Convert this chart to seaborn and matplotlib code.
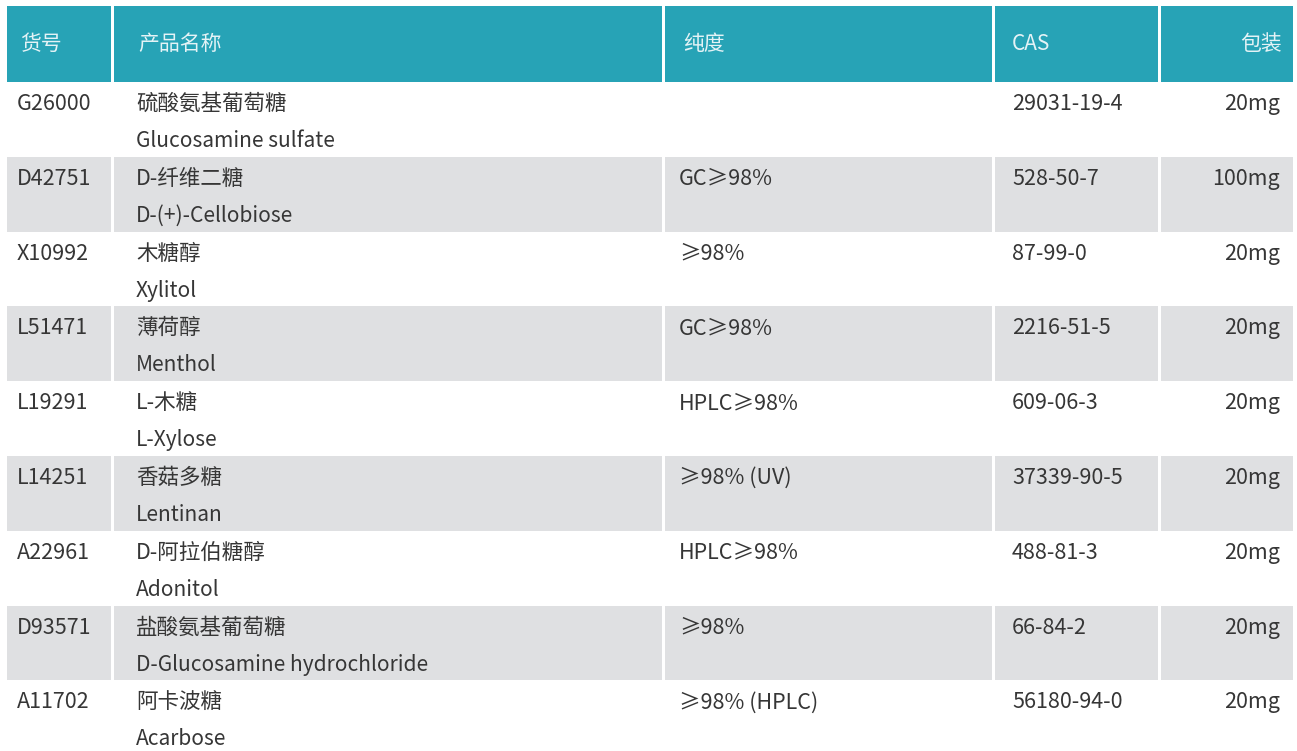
import matplotlib
matplotlib.use("Agg")
import matplotlib.pyplot as plt
from matplotlib.patches import Rectangle
import seaborn as sns

# ---- data ----
headers = ["货号", "产品名称", "纯度", "CAS", "包装"]
codes = ["G26000", "D42751", "X10992", "L51471", "L19291", "L14251", "A22961", "D93571", "A11702"]
names_cn = ["硫酸氨基葡萄糖", "D-纤维二糖", "木糖醇", "薄荷醇", "L-木糖", "香菇多糖",
            "D-阿拉伯糖醇", "盐酸氨基葡萄糖", "阿卡波糖"]
names_en = ["Glucosamine sulfate", "D-(+)-Cellobiose", "Xylitol", "Menthol", "L-Xylose",
            "Lentinan", "Adonitol", "D-Glucosamine hydrochloride", "Acarbose"]
purity = ["", "GC≥98%", "≥98%", "GC≥98%", "HPLC≥98%", "≥98% (UV)", "HPLC≥98%", "≥98%", "≥98% (HPLC)"]
cas = ["29031-19-4", "528-50-7", "87-99-0", "2216-51-5", "609-06-3", "37339-90-5",
       "488-81-3", "66-84-2", "56180-94-0"]
pack = ["20mg", "100mg", "20mg", "20mg", "20mg", "20mg", "20mg", "20mg", "20mg"]

sns.set_theme(style="white")
plt.rcParams['font.family'] = ['Noto Sans CJK SC', 'DejaVu Sans']

W, H = 1297, 751
fig = plt.figure(figsize=(W / 100, H / 100), dpi=100)
ax = fig.add_axes([0, 0, 1, 1])
ax.set_xlim(0, W)
ax.set_ylim(H, 0)
ax.axis("off")

# layout
col_left = [7, 114, 665, 995, 1161]
col_right = [111, 662, 992, 1158, 1293]
head_top, head_bot = 6, 82
row_h = 74.8
teal = "#27a3b6"
gray = "#dfe0e2"
txt = "#363636"
fs = 15.5

# header
head_x = [20, 138, 683, 1012]
for j, h in enumerate(headers):
    ax.add_patch(Rectangle((col_left[j], head_top), col_right[j] - col_left[j],
                           head_bot - head_top, facecolor=teal, edgecolor="none"))
    if j == 4:
        ax.text(col_right[j] - 11, 44, h, ha="right", va="center", fontsize=fs - 0.5, color="#e4f3f6")
    else:
        ax.text(head_x[j], 44, h, ha="left", va="center", fontsize=fs - 0.5, color="#e4f3f6")

# body rows
for i in range(len(codes)):
    top = head_bot + i * row_h
    if i % 2 == 1:
        for j in range(5):
            ax.add_patch(Rectangle((col_left[j], top), col_right[j] - col_left[j], row_h,
                                   facecolor=gray, edgecolor="none"))
    y1 = top + 22
    y2 = top + 59
    ax.text(17, y1, codes[i], ha="left", va="center", fontsize=fs, color=txt)
    ax.text(136, y1, names_cn[i], ha="left", va="center", fontsize=fs, color=txt)
    ax.text(136, y2, names_en[i], ha="left", va="center", fontsize=fs - 0.4, color=txt)
    ax.text(679, y1, purity[i], ha="left", va="center", fontsize=fs, color=txt)
    ax.text(1012, y1, cas[i], ha="left", va="center", fontsize=fs, color=txt)
    ax.text(1280, y1, pack[i], ha="right", va="center", fontsize=fs, color=txt)

fig.savefig("out.png", dpi=100, facecolor="white")
